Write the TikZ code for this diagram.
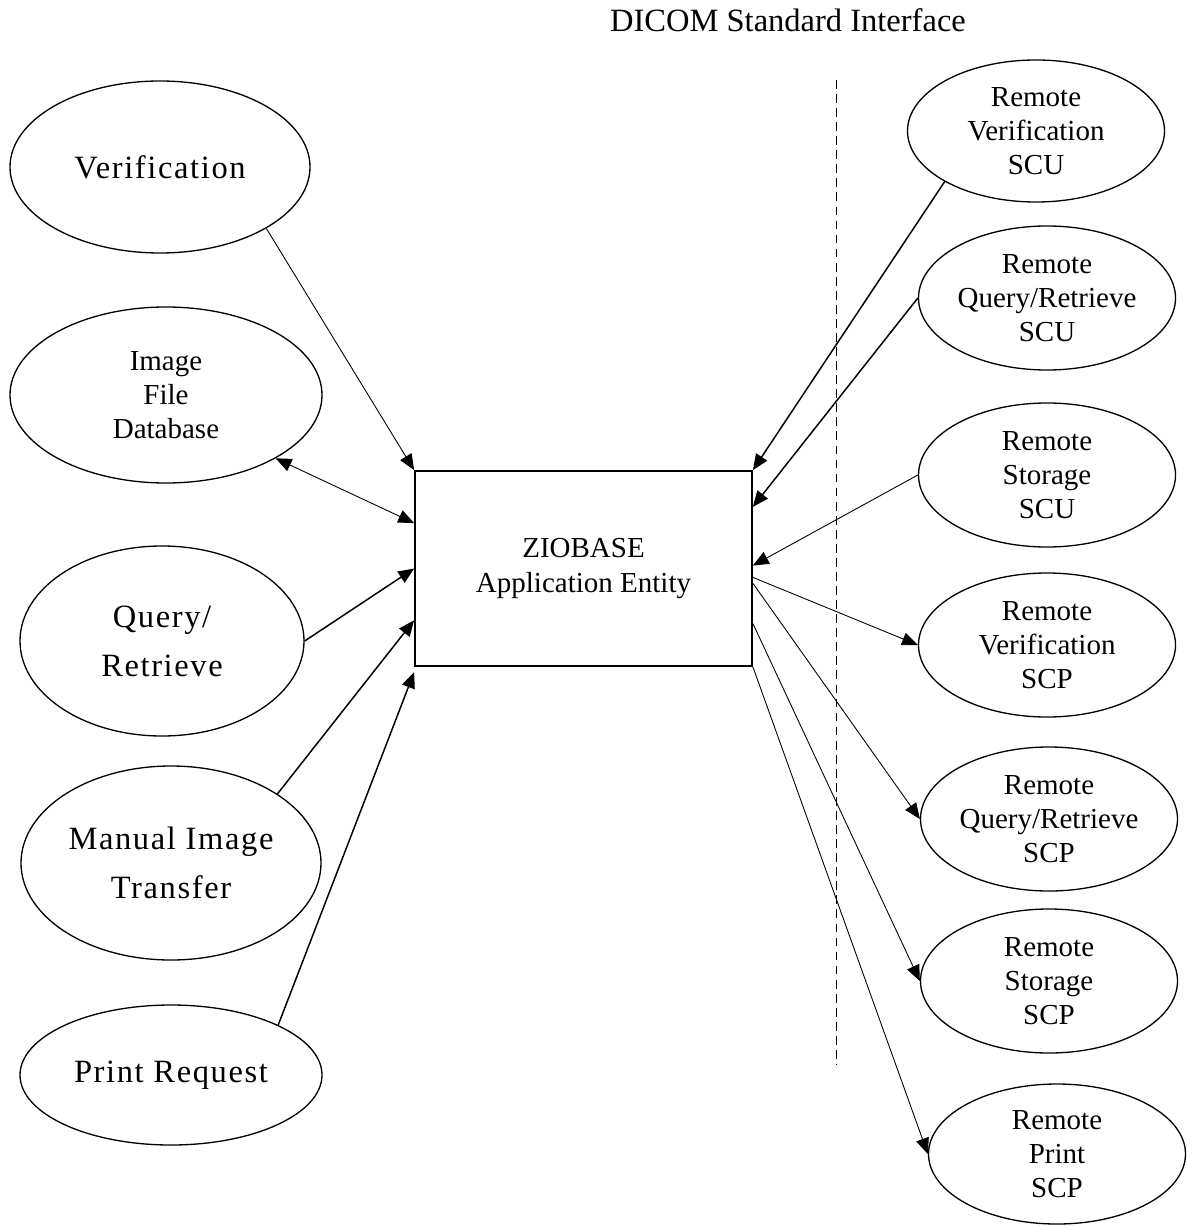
\documentclass[tikz,border=0pt]{standalone}
\usepackage{fontspec}
\setmainfont{Liberation Serif}
\newfontfamily\spacedfont[LetterSpace=5]{Liberation Serif}
\usepackage{tikz}
\usetikzlibrary{shapes.geometric}
\usetikzlibrary{arrows.meta}
\tikzset{ovalnode/.style={ellipse, draw=black, line width=0.75pt, inner sep=0pt, align=center, font=\fontsize{16.5}{19.5}\selectfont}}
\tikzset{localnode/.style={ovalnode, font=\spacedfont\fontsize{18.5}{28}\selectfont}}
\tikzset{remotenode/.style={ovalnode, minimum width=51.4mm, minimum height=28.8mm}}
\tikzset{entitynode/.style={rectangle, draw=black, line width=1pt, align=center, minimum width=67.4mm, minimum height=39mm, font=\fontsize{16.5}{19.5}\selectfont}}
\tikzset{link/.style={-{Triangle[length=9pt,width=7.5pt]}, line width=0.5pt}}
\tikzset{boldlink/.style={link, line width=0.85pt}}

\begin{document}
\begin{tikzpicture}[x=0.2mm, y=-0.2mm]
    \useasboundingbox (0,0) rectangle (1186,1226);

    \node[font=\fontsize{18.5}{22}\selectfont, anchor=base] (title) at (788,32) {DICOM Standard Interface};
    \coordinate (divtop) at (836,80);
    \coordinate (divbot) at (836,1065);
    \draw[dash pattern=on 5pt off 3pt, line width=0.5pt] (divtop) -- (divbot);

    \node[entitynode]   (ent)     at (583.5,568.5)  {ZIOBASE\\Application Entity};

    \node[localnode]    (verif)   [minimum width=60mm, minimum height=34.4mm]   at (160,167)   {Verification};
    \node[ovalnode]     (imgdb)   [minimum width=62.4mm, minimum height=35.2mm] at (166,395)   {Image\\File\\Database};
    \node[localnode]    (query)   [minimum width=56.8mm, minimum height=38mm]   at (162,641)   {Query/\\Retrieve};
    \node[localnode]    (manual)  [minimum width=60mm, minimum height=38.8mm]   at (171,863)   {Manual Image\\Transfer};
    \node[localnode]    (print)   [minimum width=60.4mm, minimum height=28mm]   at (171,1075)  {Print Request};

    \node[remotenode]   (rvscu)   [minimum height=28.4mm]   at (1036,131)   {Remote\\Verification\\SCU};
    \node[remotenode]   (rqrscu)                            at (1047,298)   {Remote\\Query/Retrieve\\SCU};
    \node[remotenode]   (rstscu)                            at (1047,475)   {Remote\\Storage\\SCU};
    \node[remotenode]   (rvscp)                             at (1047,645)   {Remote\\Verification\\SCP};
    \node[remotenode]   (rqrscp)                            at (1049,819)   {Remote\\Query/Retrieve\\SCP};
    \node[remotenode]   (rstscp)                            at (1049,981)   {Remote\\Storage\\SCP};
    \node[remotenode]   (rprscp)  [minimum height=28mm]     at (1057,1154)  {Remote\\Print\\SCP};

    \draw[link] (verif.-30) -- (ent.north west);
    \draw[link, {Triangle[length=9pt,width=7.5pt]}-{Triangle[length=9pt,width=7.5pt]}] (imgdb.-30) -- (ent.165);
    \draw[boldlink] (query.0) -- (ent.180);
    \draw[boldlink] (manual.33) -- (ent.197);
    \draw[boldlink] (print.25) -- ([yshift=-3pt]ent.south west);

    \draw[boldlink] (rvscu.209) -- (ent.north east);
    \draw[boldlink] (rqrscu.180) -- (ent.20);
    \draw[link] (rstscu.180) -- (ent.1);
    \draw[link] (ent.-3) -- (rvscp.180);
    \draw[link] (ent.-5) -- (rqrscp.180);
    \draw[link] (ent.-18) -- (rstscp.180);
    \draw[link] (ent.south east) -- (rprscp.180);
\end{tikzpicture}
\end{document}
